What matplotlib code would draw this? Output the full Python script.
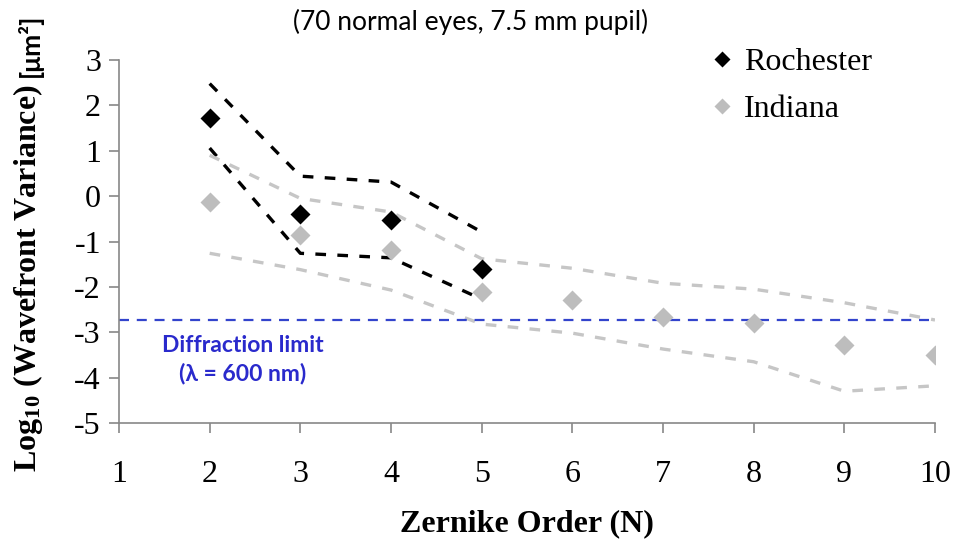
import numpy as np
import matplotlib
matplotlib.use('Agg')
import matplotlib.pyplot as plt
from matplotlib.lines import Line2D

# zernike orders
orders_roc = [2, 3, 4, 5]
orders_ind = [2, 3, 4, 5, 6, 7, 8, 9, 10]

# log10 wavefront variance, mean values
roc_mean = [1.72, -0.40, -0.53, -1.61]
ind_mean = [-0.13, -0.86, -1.19, -2.11, -2.29, -2.67, -2.80, -3.28, -3.50]

# upper / lower bounds (dashed)
roc_upper = [2.48, 0.44, 0.31, -0.79]
roc_lower = [1.06, -1.26, -1.36, -2.27]
ind_upper = [0.90, -0.05, -0.35, -1.38, -1.59, -1.92, -2.05, -2.35, -2.73]
ind_lower = [-1.26, -1.62, -2.07, -2.82, -3.02, -3.37, -3.65, -4.30, -4.18]

diffraction_limit = -2.73

plt.rcParams['mathtext.fontset'] = 'stix'
plt.rcParams['axes.unicode_minus'] = False

W, H = 954, 539
fig = plt.figure(figsize=(W / 100, H / 100), dpi=100)
ax = fig.add_axes([119 / W, 1 - 423 / H, (935 - 119) / W, (423 - 60) / H])

serif = 'Liberation Serif'
sans = 'Lato'
gray_line = '#c6c6c6'
gray_mark = '#bdbdbd'
blue = '#3344cc'

# bounds
ax.plot(orders_roc, roc_upper, color='black', lw=2.4, dashes=(3.2, 3.4))
ax.plot(orders_roc, roc_lower, color='black', lw=2.4, dashes=(3.2, 3.4))
ax.plot(orders_ind, ind_upper, color=gray_line, lw=2.4, dashes=(3.2, 3.4))
ax.plot(orders_ind, ind_lower, color=gray_line, lw=2.4, dashes=(3.2, 3.4))

# diffraction limit
ax.axhline(diffraction_limit, color=blue, lw=1.6, dashes=(4.5, 3.5))

# means
ax.plot(orders_ind, ind_mean, 'D', color=gray_mark, ms=10, mec='none')
ax.plot(orders_roc, roc_mean, 'D', color='black', ms=10, mec='none')

ax.set_xlim(1, 10)
ax.set_ylim(-5, 3)
ax.set_xticks(range(1, 11))
ax.set_yticks(range(-5, 4))
for s in ['top', 'right']:
    ax.spines[s].set_visible(False)
for s in ['left', 'bottom']:
    ax.spines[s].set_color('#888888')
    ax.spines[s].set_linewidth(1.2)
ax.tick_params(axis='both', direction='out', length=7, width=1.2, color='#888888',
               labelsize=23, pad=6)
ax.tick_params(axis='x', pad=20)
for lab in ax.get_xticklabels() + ax.get_yticklabels():
    lab.set_fontfamily(serif)

ax.set_xlabel('Zernike Order (N)', fontfamily=serif, fontweight='bold', fontsize=23,
              labelpad=14)

# y label: serif part + sans unit part
fig.text(28 / W, 1 - 278 / H, r'Log$_{\mathregular{10}}$ (Wavefront Variance)',
         rotation=90, ha='center', va='center', fontfamily=serif,
         fontweight='bold', fontsize=23)
fig.text(30 / W, 1 - 45 / H, '[μm²]', rotation=90, ha='center', va='center',
         fontfamily=sans, fontweight='bold', fontsize=19)

fig.text(471 / W, 1 - 22 / H, '(70 normal eyes, 7.5 mm pupil)', ha='center',
         va='center', fontfamily=sans, fontsize=19)

ax.text(243 / W, 1 - 345 / H, 'Diffraction limit', transform=fig.transFigure,
        ha='center', va='center', fontfamily=sans, fontweight='bold',
        fontsize=16.5, color='#2a2acc')
ax.text(243 / W, 1 - 374 / H, '(λ = 600 nm)', transform=fig.transFigure,
        ha='center', va='center', fontfamily=sans, fontweight='bold',
        fontsize=16.5, color='#2a2acc')

handles = [Line2D([], [], ls='none', marker='D', color='black', ms=8, mec='none'),
           Line2D([], [], ls='none', marker='D', color=gray_mark, ms=8, mec='none')]
ax.legend(handles, ['Rochester', 'Indiana'], loc='upper left',
          bbox_to_anchor=(712 / W, 1 - 48 / H), bbox_transform=fig.transFigure,
          frameon=False, prop={'family': serif, 'size': 23}, handlelength=0.6,
          handletextpad=0.4, labelspacing=0.55, borderaxespad=0, borderpad=0)

fig.savefig('out.png', dpi=100)
